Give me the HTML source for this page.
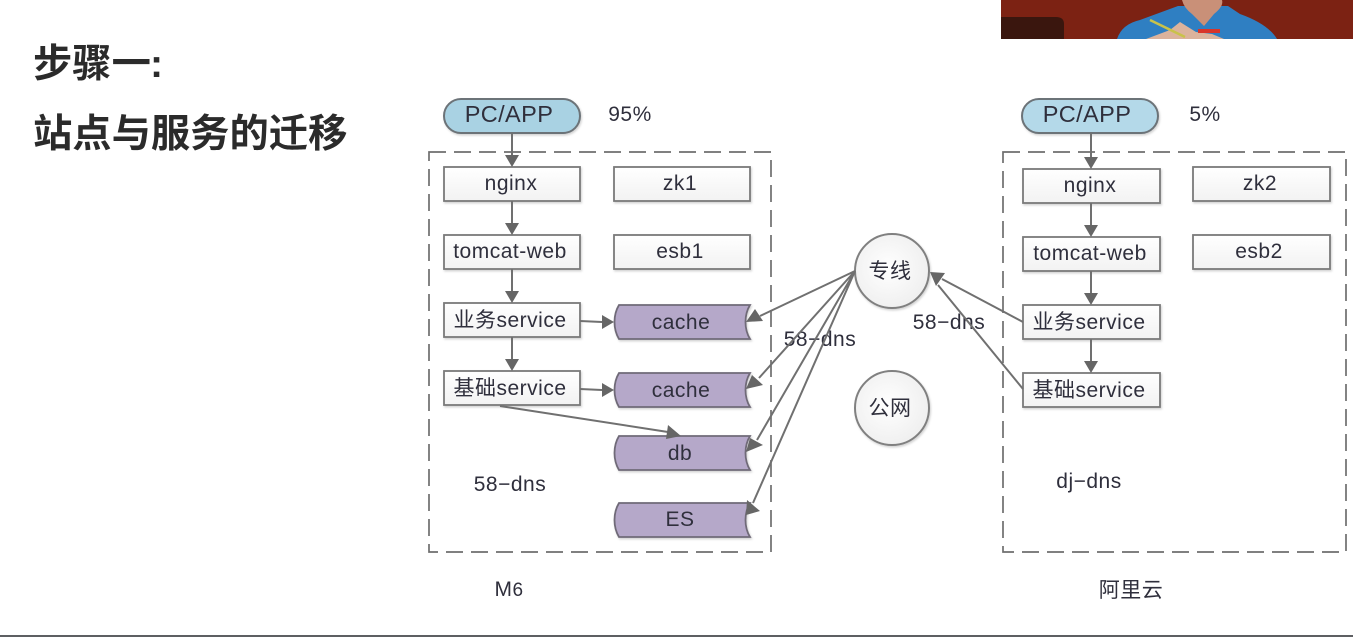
<!DOCTYPE html>
<html><head><meta charset="utf-8"><style>
html,body{margin:0;padding:0;background:#fff;width:1353px;height:637px;overflow:hidden}
svg{display:block}
text{font-family:"Liberation Sans","Noto Sans CJK SC",sans-serif;font-size:21px;fill:#2f2f3c;text-anchor:middle;letter-spacing:.5px}
.t{font-family:"Noto Sans CJK SC","Liberation Sans",sans-serif;font-size:39.3px;font-weight:700;fill:#2b2b2b;text-anchor:start;letter-spacing:0}
.p{font-size:23.5px;letter-spacing:.4px}
.b{fill:url(#g);stroke:#7a7a7a;stroke-width:1.8;filter:url(#s)}
.d{fill:#b5a8c9;stroke:#6f6b78;stroke-width:1.8;filter:url(#s)}
.l{stroke:#707070;stroke-width:2;fill:none}
.a{fill:#666}
.soft{filter:blur(.35px)}
</style></head><body>
<svg width="1353" height="637" viewBox="0 0 1353 637" xmlns="http://www.w3.org/2000/svg">
<defs>
<linearGradient id="g" x1="0" y1="0" x2="0" y2="1"><stop offset="0" stop-color="#fff"/><stop offset="1" stop-color="#f2f2f2"/></linearGradient>
<radialGradient id="c" cx=".45" cy=".45" r=".6"><stop offset="0" stop-color="#fff"/><stop offset="1" stop-color="#eee"/></radialGradient>
<filter id="s" x="-5%" y="-15%" width="110%" height="130%"><feDropShadow dx="1" dy="1.5" stdDeviation="1" flood-color="#000" flood-opacity=".18"/></filter>
<path id="cyl" d="M619 0H750C744 10 744 24 750 34H619C613 24 613 10 619 0Z"/>
</defs>
<!-- webcam -->
<rect x="1001" y="0" width="352" height="39" fill="#7c2213"/>
<path d="M1001 39V17H1056Q1064 17 1064 24V39Z" fill="#3a160e"/>
<path d="M1117 39Q1122 24 1140 20L1178 6L1228 6L1240 14Q1268 24 1277 39Z" fill="#2f7fc2"/>
<path d="M1182 0H1222Q1224 6 1214 14L1204 26L1192 14Q1184 8 1182 0Z" fill="#c99078"/>
<path d="M1146 39L1170 30L1180 22L1196 32L1212 34L1224 39Z" fill="#dcb39c"/>
<path d="M1150 20L1185 37" stroke="#c9c24a" stroke-width="2.5"/>
<rect x="1198" y="29" width="22" height="4" fill="#d8352a"/>
<!-- titles -->
<text class="t" x="33" y="77">步骤一</text>
<text class="t" x="150" y="77" style="font-family:'Liberation Sans',sans-serif">:</text>
<text class="t" x="33" y="147">站点与服务的迁移</text>
<g class="soft">
<!-- dashed containers -->
<rect x="429" y="152" width="342" height="400" fill="none" stroke="#6e6e6e" stroke-width="1.7" stroke-dasharray="17 8"/>
<rect x="1003" y="152" width="343" height="400" fill="none" stroke="#6e6e6e" stroke-width="1.7" stroke-dasharray="17 8"/>
<!-- left -->
<rect x="444" y="99" width="136" height="34" rx="17" fill="#a9d2e3" stroke="#6c7378" stroke-width="2" filter="url(#s)"/>
<text class="p" x="509" y="122">PC/APP</text><text x="630" y="121">95%</text>
<rect class="b" x="444" y="167" width="136" height="34"/><text x="511" y="190">nginx</text>
<rect class="b" x="614" y="167" width="136" height="34"/><text x="680" y="190">zk1</text>
<rect class="b" x="444" y="235" width="136" height="34"/><text x="510" y="258">tomcat-web</text>
<rect class="b" x="614" y="235" width="136" height="34"/><text x="680" y="258">esb1</text>
<rect class="b" x="444" y="303" width="136" height="34"/><text x="510" y="327">业务service</text>
<rect class="b" x="444" y="371" width="136" height="34"/><text x="510" y="395">基础service</text>
<use href="#cyl" y="305" class="d"/><text x="681" y="329">cache</text>
<use href="#cyl" y="373" class="d"/><text x="681" y="397">cache</text>
<use href="#cyl" y="436" class="d"/><text x="680" y="460">db</text>
<use href="#cyl" y="503" class="d"/><text x="680" y="526">ES</text>
<text x="510" y="491">58−dns</text>
<text x="509" y="596">M<tspan font-size="19">6</tspan></text>
<!-- right -->
<rect x="1022" y="99" width="136" height="34" rx="17" fill="#b4d9e9" stroke="#6c7378" stroke-width="2" filter="url(#s)"/>
<text class="p" x="1087" y="122">PC/APP</text><text x="1205" y="121">5%</text>
<rect class="b" x="1023" y="169" width="137" height="34"/><text x="1090" y="192">nginx</text>
<rect class="b" x="1193" y="167" width="137" height="34"/><text x="1260" y="190">zk2</text>
<rect class="b" x="1023" y="237" width="137" height="34"/><text x="1090" y="260">tomcat-web</text>
<rect class="b" x="1193" y="235" width="137" height="34"/><text x="1259" y="258">esb2</text>
<rect class="b" x="1023" y="305" width="137" height="34"/><text x="1089" y="329">业务service</text>
<rect class="b" x="1023" y="373" width="137" height="34"/><text x="1089" y="397">基础service</text>
<text x="1089" y="488">dj−dns</text>
<text x="1131" y="597">阿里云</text>
<!-- circles -->
<circle cx="892" cy="271" r="37" fill="url(#c)" stroke="#808080" stroke-width="2" filter="url(#s)"/><text x="890" y="278">专线</text>
<circle cx="892" cy="408" r="37" fill="url(#c)" stroke="#808080" stroke-width="2" filter="url(#s)"/><text x="890" y="415">公网</text>
<text x="820" y="346">58−dns</text>
<text x="949" y="329">58−dns</text>
<!-- connectors -->
<g class="l">
<path d="M512 133V155M512 201V223M512 269V291M512 337V359M580 321L602 322M580 389L602 390M1091 133V157M1091 203V225M1091 271V293M1091 339V361"/>
<path d="M500 406L668 432"/>
<path d="M855 271L760 316M855 271L759 378M855 271L757 440M855 271L753 503"/>
<path d="M1023 322L942 279M1023 389L938 285"/>
</g>
<g class="a">
<path d="M505 155H519L512 167ZM505 223H519L512 235ZM505 291H519L512 303ZM505 359H519L512 371Z"/>
<path d="M602 315L614 322L602 329ZM602 383L614 390L602 397Z"/>
<path d="M1084 157H1098L1091 169ZM1084 225H1098L1091 237ZM1084 293H1098L1091 305ZM1084 361H1098L1091 373Z"/>
<path d="M668 425L681 436L666 439Z"/>
<path d="M746 322L755 309L763 321ZM746 389L752 375L763 385ZM746 452L750 438L763 445ZM746 515L747 500L760 511Z"/>
<path d="M930 272L945 273L936 286Z"/>
</g>
</g>
<!-- bottom bar -->
<rect x="0" y="635" width="1353" height="2" fill="#5d5f62"/>
</svg>
</body></html>
